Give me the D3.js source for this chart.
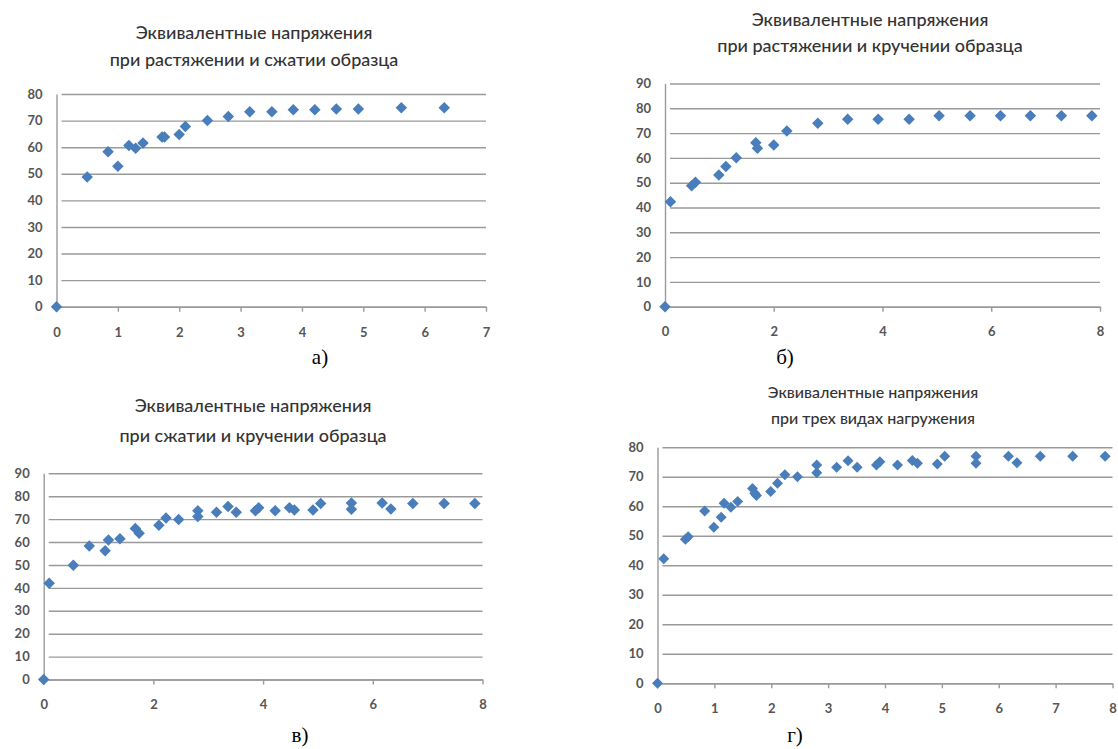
<!DOCTYPE html>
<html><head><meta charset="utf-8">
<script src="https://cdn.jsdelivr.net/npm/d3@7"></script>
<style>
body{margin:0;background:#fff}
svg text{font-family:Lato,"Noto Sans",sans-serif}
</style>
</head><body><svg id="chart" width="1118" height="749"></svg>
<script>
// ---- data ----
const aX = [0, 0.50, 0.84, 1.00, 1.18, 1.29, 1.41, 1.72, 1.76, 2.00, 2.10, 2.46, 2.80, 3.15, 3.51, 3.86, 4.21, 4.56, 4.92, 5.62, 6.32];
const aY = [0, 48.8, 58.3, 52.8, 60.6, 59.6, 61.6, 63.8, 63.8, 64.8, 67.8, 70.0, 71.5, 73.3, 73.3, 74.1, 74.1, 74.4, 74.4, 74.8, 74.8];

const bX = [0, 0.10, 0.49, 0.56, 0.99, 1.12, 1.31, 1.67, 1.70, 2.00, 2.24, 2.81, 3.36, 3.92, 4.49, 5.04, 5.61, 6.17, 6.72, 7.29, 7.85];
const bY = [0, 42.3, 48.8, 50.2, 53.1, 56.5, 60.1, 66.1, 63.9, 65.2, 70.8, 74.0, 75.6, 75.6, 75.6, 77.0, 77.0, 77.0, 77.0, 77.0, 77.0];

const cX = [0, 0.10, 0.54, 0.83, 1.12, 1.18, 1.39, 1.67, 1.74, 2.10, 2.23, 2.46, 2.81, 2.81, 3.15, 3.36, 3.51, 3.86, 3.92, 4.22, 4.48, 4.57, 4.91, 5.05, 5.61, 5.61, 6.17, 6.33, 6.73, 7.30, 7.86];
const cY = [0, 42.0, 49.9, 58.3, 56.2, 60.9, 61.4, 65.9, 63.8, 67.3, 70.5, 69.8, 73.6, 71.1, 73.0, 75.5, 73.0, 73.7, 75.0, 73.7, 75.0, 74.0, 74.0, 76.8, 77.0, 74.3, 77.0, 74.4, 76.8, 76.8, 76.8];

const dX = [0, 0.11, 0.49, 0.54, 0.83, 0.99, 1.12, 1.17, 1.29, 1.41, 1.67, 1.71, 1.74, 1.99, 2.11, 2.24, 2.46, 2.80, 2.80, 3.15, 3.35, 3.51, 3.85, 3.91, 4.22, 4.48, 4.57, 4.92, 5.05, 5.60, 5.60, 6.17, 6.32, 6.73, 7.30, 7.87];
const dY = [0, 42.2, 48.8, 49.7, 58.4, 52.9, 56.3, 61.0, 59.7, 61.6, 66.0, 64.4, 63.7, 65.0, 67.8, 70.7, 70.0, 74.0, 71.4, 73.2, 75.4, 73.2, 74.0, 75.1, 74.0, 75.5, 74.6, 74.3, 77.0, 77.0, 74.6, 77.0, 74.8, 77.0, 77.0, 77.0];

const aXTicks = [0, 1, 2, 3, 4, 5, 6, 7];
const aYTicks = [0, 10, 20, 30, 40, 50, 60, 70, 80];
const bXTicks = [0, 2, 4, 6, 8];
const bYTicks = [0, 10, 20, 30, 40, 50, 60, 70, 80, 90];
const cXTicks = [0, 2, 4, 6, 8];
const cYTicks = [0, 10, 20, 30, 40, 50, 60, 70, 80, 90];
const dXTicks = [0, 1, 2, 3, 4, 5, 6, 7, 8];
const dYTicks = [0, 10, 20, 30, 40, 50, 60, 70, 80];

const aTitle = ["Эквивалентные напряжения", "при растяжении и сжатии образца"];
const bTitle = ["Эквивалентные напряжения", "при растяжении и кручении образца"];
const cTitle = ["Эквивалентные напряжения", "при сжатии и кручении образца"];
const dTitle = ["Эквивалентные напряжения", "при трех видах нагружения"];
const captions = ["а)", "б)", "в)", "г)"];

// ---- layout ----
const panels = [
  {xs:aX, ys:aY, xt:aXTicks, yt:aYTicks, title:aTitle, cap:captions[0],
   x0:56.5, x1:486, y0:306.7, y1:94, tx:254, ty:[39,66], tsize:18, capx:320, capy:364, xlab:335, dsz:11.5},
  {xs:bX, ys:bY, xt:bXTicks, yt:bYTicks, title:bTitle, cap:captions[1],
   x0:665, x1:1100, y0:306.7, y1:83.5, tx:870, ty:[26,52], tsize:18, capx:785, capy:364, xlab:334, dsz:11.5},
  {xs:cX, ys:cY, xt:cXTicks, yt:cYTicks, title:cTitle, cap:captions[2],
   x0:43.7, x1:482.5, y0:679.5, y1:473.3, tx:253, ty:[412,442], tsize:18, capx:300, capy:742, xlab:707, dsz:11.5},
  {xs:dX, ys:dY, xt:dXTicks, yt:dYTicks, title:dTitle, cap:captions[3],
   x0:657.5, x1:1112.5, y0:683.3, y1:447.3, tx:873, ty:[398,424], tsize:16, capx:795, capy:742, xlab:711, dsz:11}
];

const svg = d3.select("#chart");
const GRID = "#9a9a9a", LBL = "#555", MARK = "#4a7ebb";

panels.forEach(p => {
  const g = svg.append("g");
  const xMax = p.xt[p.xt.length - 1], yMax = p.yt[p.yt.length - 1];
  const x = d3.scaleLinear().domain([0, xMax]).range([p.x0, p.x1]);
  const y = d3.scaleLinear().domain([0, yMax]).range([p.y0, p.y1]);
  const w = p.x1 - p.x0;

  // horizontal gridlines (extend 5px left as tick marks)
  const grid = g.append("g").attr("transform", `translate(${p.x0},0)`)
    .call(d3.axisLeft(y).tickValues(p.yt).tickSizeInner(-(w)).tickSizeOuter(0).tickFormat(""));
  grid.select(".domain").remove();
  grid.selectAll(".tick line").attr("x1", 5).attr("stroke", GRID).attr("stroke-width", 1.4);

  // y labels
  const yl = g.append("g").attr("transform", `translate(${p.x0},0)`)
    .call(d3.axisLeft(y).tickValues(p.yt).tickSize(0).tickPadding(14).tickFormat(d3.format("d")));
  yl.select(".domain").attr("stroke", GRID).attr("stroke-width", 1.4);
  yl.selectAll("text").attr("font-size", 13).attr("font-weight", 700).attr("fill", LBL);

  // x axis
  const xa = g.append("g").attr("transform", `translate(0,${p.y0})`)
    .call(d3.axisBottom(x).tickValues(p.xt).tickSizeInner(5).tickSizeOuter(0).tickPadding(p.xlab - p.y0 - 12).tickFormat(d3.format("d")));
  xa.select(".domain").attr("stroke", GRID).attr("stroke-width", 1.4);
  xa.selectAll(".tick line").attr("stroke", GRID).attr("stroke-width", 1.4);
  xa.selectAll("text").attr("font-size", 13).attr("font-weight", 700).attr("fill", LBL);

  // markers: diamonds (squares rotated 45deg)
  const side = p.dsz / Math.SQRT2;
  const sym = d3.symbol().type(d3.symbolSquare).size(side * side);
  g.append("g").selectAll("path").data(d3.range(p.xs.length)).join("path")
    .attr("d", sym)
    .attr("transform", i => `translate(${x(p.xs[i])},${y(p.ys[i])}) rotate(45)`)
    .attr("fill", MARK);

  // title
  g.append("g").selectAll("text").data(p.title).join("text")
    .attr("x", p.tx).attr("y", (d, i) => p.ty[i])
    .attr("text-anchor", "middle").attr("font-size", p.tsize).attr("font-weight", 500).attr("fill", "#333")
    .text(d => d);

  // caption
  g.append("text").attr("x", p.capx).attr("y", p.capy).attr("text-anchor", "middle")
    .style("font-family", "'Liberation Serif','Times New Roman',serif").attr("font-size", 21).attr("fill", "#000")
    .text(p.cap);
});
</script></body></html>
